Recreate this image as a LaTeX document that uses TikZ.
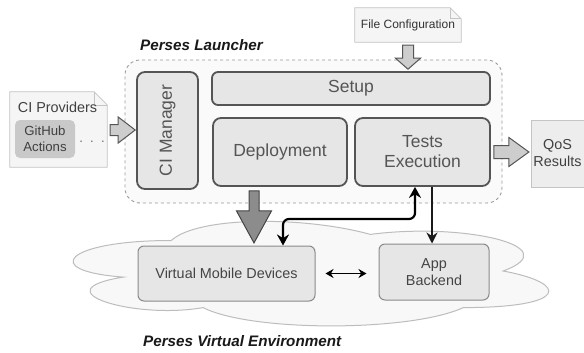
\documentclass[tikz,border=0pt]{standalone}
\usepackage{fontspec}
\setmainfont{Liberation Sans}
\usetikzlibrary{arrows.meta,calc}
\definecolor{boxfill}{HTML}{E6E6E6}
\definecolor{boxline}{HTML}{555555}
\definecolor{txtgray}{HTML}{555555}
\definecolor{envline}{HTML}{8A8A8A}
\definecolor{notefill}{HTML}{F5F5F5}
\definecolor{noteline}{HTML}{C4C4C4}
\definecolor{cloudfill}{HTML}{F8F8F8}
\definecolor{cloudline}{HTML}{BDBDBD}
\definecolor{contfill}{HTML}{FAFAFA}
\definecolor{contline}{HTML}{9A9A9A}
\definecolor{ghfill}{HTML}{C9C9C9}
\definecolor{arrlight}{HTML}{CDCDCD}
\definecolor{arrdark}{HTML}{8C8C8C}
\tikzset{
  pics/barrow/.style n args={5}{code={
    \path[#5] (0,-#2) -- ({#1-#3},-#2) -- ({#1-#3},-#4) -- (#1,0)
      -- ({#1-#3},#4) -- ({#1-#3},#2) -- (0,#2) -- cycle;}},
  lightarrow/.style={fill=arrlight, draw=boxline, line width=1pt, line join=miter},
  darkarrow/.style={fill=arrdark, draw=boxline!80!black, line width=1pt, line join=miter},
  lbox/.style={draw=boxline, line width=1.8pt, fill=boxfill, rounded corners=8pt,
    text=txtgray, font=\fontsize{17.5}{20}\selectfont, align=center, inner sep=0pt},
  ebox/.style={draw=envline, line width=1pt, fill=boxfill, rounded corners=6pt,
    text=txtgray!80!black, font=\fontsize{14.4}{17}\selectfont, align=center, inner sep=0pt},
  notebox/.style={inner sep=0pt, text=black!80, align=center},
  noteshape/.style={fill=notefill, draw=noteline, line width=0.8pt},
  title/.style={font=\fontsize{15.2}{18}\selectfont\bfseries\itshape, text=black!90, inner sep=0pt},
  conn/.style={draw=black, line width=2.2pt, rounded corners=6pt,
    {Stealth[length=11pt,width=12pt]}-{Stealth[length=11pt,width=12pt]}},
  conn1/.style={draw=black!90, line width=1.6pt, -{Stealth[length=11pt,width=11pt]}},
  conn2/.style={draw=black, line width=1.5pt, {Stealth[length=8pt,width=9pt]}-{Stealth[length=8pt,width=9pt]}}
}
\begin{document}
\begin{tikzpicture}[x=1pt,y=-1pt]
\useasboundingbox (0,0) rectangle (584,353);
\fill[white] (0,0) rectangle (584,353);

% cloud (environment)
\begin{scope}[shift={(38.5,210)}, x=5.31pt, y=-1.22pt]
\path[fill=cloudfill, draw=cloudline, line width=1pt]
  (25,25) .. controls (5,25) and (0,50) .. (16,55)
  .. controls (0,66) and (18,90) .. (31,80)
  .. controls (40,100) and (70,100) .. (80,80)
  .. controls (100,80) and (100,60) .. (87.5,50)
  .. controls (100,30) and (80,10) .. (62.5,20)
  .. controls (50,5) and (30,5) .. (25,25) -- cycle;
\end{scope}

% launcher container
\node[draw=contline, fill=contfill, dash pattern=on 3pt off 3pt, line width=0.9pt,
  rounded corners=15pt, minimum width=377pt, minimum height=143pt, inner sep=0pt]
  (launcher) at (313.5,131.5) {};
\node[title, anchor=base west] (launchertitle) at (140,51) {Perses Launcher};

% launcher components
\node[lbox, rotate=90, minimum width=117pt, minimum height=61pt] (ciman) at (167.5,130.5) {CI Manager};
\node[lbox, rounded corners=6pt, minimum width=278pt, minimum height=33pt] (setup) at (351,88.5) {Setup};
\node[lbox, minimum width=134pt, minimum height=68pt] (deploy) at (280,152) {Deployment};
\node[lbox, minimum width=135pt, minimum height=68pt] (tests) at (422.5,152) {Tests\\Execution};

% file configuration note
\node[notebox, minimum width=106pt, minimum height=34pt, font=\fontsize{12}{14}\selectfont] (fileconf) at (408,25) {};
\path[noteshape] (fileconf.north west) -- ([xshift=-11pt]fileconf.north east)
  -- ([yshift=-11pt]fileconf.north east) -- (fileconf.south east) -- (fileconf.south west) -- cycle;
\draw[noteline, line width=0.6pt] ([xshift=-11pt]fileconf.north east) -- ([xshift=-11pt,yshift=-11pt]fileconf.north east) -- ([yshift=-11pt]fileconf.north east);
\node[notebox, font=\fontsize{12}{14}\selectfont] (fileconftext) at (fileconf.center) {File Configuration};

% CI providers note
\node[notebox, minimum width=97pt, minimum height=75pt] (ciprov) at (58.5,129.5) {};
\path[noteshape] (ciprov.north west) -- ([xshift=-13pt]ciprov.north east)
  -- ([yshift=-13pt]ciprov.north east) -- (ciprov.south east) -- (ciprov.south west) -- cycle;
\draw[noteline, line width=0.6pt] ([xshift=-13pt]ciprov.north east) -- ([xshift=-13pt,yshift=-13pt]ciprov.north east) -- ([yshift=-13pt]ciprov.north east);
\node[notebox, anchor=base, text=black!75, font=\fontsize{14.4}{17}\selectfont] (ciprovtext) at (57.5,113) {CI Providers};
\node[fill=ghfill, rounded corners=5pt, minimum width=60pt, minimum height=38pt, inner sep=0pt,
  align=center, text=black!75, font=\fontsize{13.2}{16.5}\selectfont] (github) at (45,139) {GitHub\\Actions};
\node[anchor=base, text=black!60, inner sep=0pt, font=\fontsize{13}{15}\selectfont] (dots) at (92,142) {.\ \ .\ \ .};

% QoS results
\node[fill=boxfill!70!white, draw=noteline, line width=0.8pt, minimum width=54pt, minimum height=67pt,
  inner sep=0pt, align=center, text=black!75, font=\fontsize{14.4}{17}\selectfont] (qos) at (558,153.5) {};
\node[align=center, inner sep=0pt, text=black!75, font=\fontsize{14.4}{17}\selectfont] (qostext) at (557.5,153.5) {QoS\\Results};

% environment components
\node[ebox, minimum width=177pt, minimum height=55pt] (vmd) at (226.5,273.5) {Virtual Mobile Devices};
\node[ebox, minimum width=110pt, minimum height=56pt] (backend) at (434,272) {App\\Backend};
\node[title, anchor=base west] (envtitle) at (143,346) {Perses Virtual Environment};

% block arrows
\pic[rotate=0] at ($(ciprov.east)+(3,0.5)$) {barrow={25}{5.5}{17}{13}{lightarrow}};
\pic[rotate=-90] at ($(fileconf.south)+(0,3)$) {barrow={24}{5.5}{11}{12.5}{lightarrow}};
\pic[rotate=0] at ($(tests.east)+(3,0)$) {barrow={35}{6.5}{20}{14.5}{lightarrow}};
\pic[rotate=-90] at ($(deploy.south)+(-26,4)$) {barrow={52}{5}{32}{17.5}{darkarrow}};

% connectors
\coordinate (bend) at (0,219);
\draw[conn] ([xshift=-7.5pt]tests.south) -- ([xshift=-7.5pt]tests.south |- bend)
  -- ([xshift=56.5pt]vmd.north |- bend) -- ([xshift=56.5pt]vmd.north);
\draw[conn1] ([xshift=9.5pt]tests.south) -- ([xshift=9.5pt]tests.south |- backend.north);
\draw[conn2, shorten <=10pt, shorten >=12pt] (vmd.east) -- (vmd.east -| backend.west);
\end{tikzpicture}
\end{document}
